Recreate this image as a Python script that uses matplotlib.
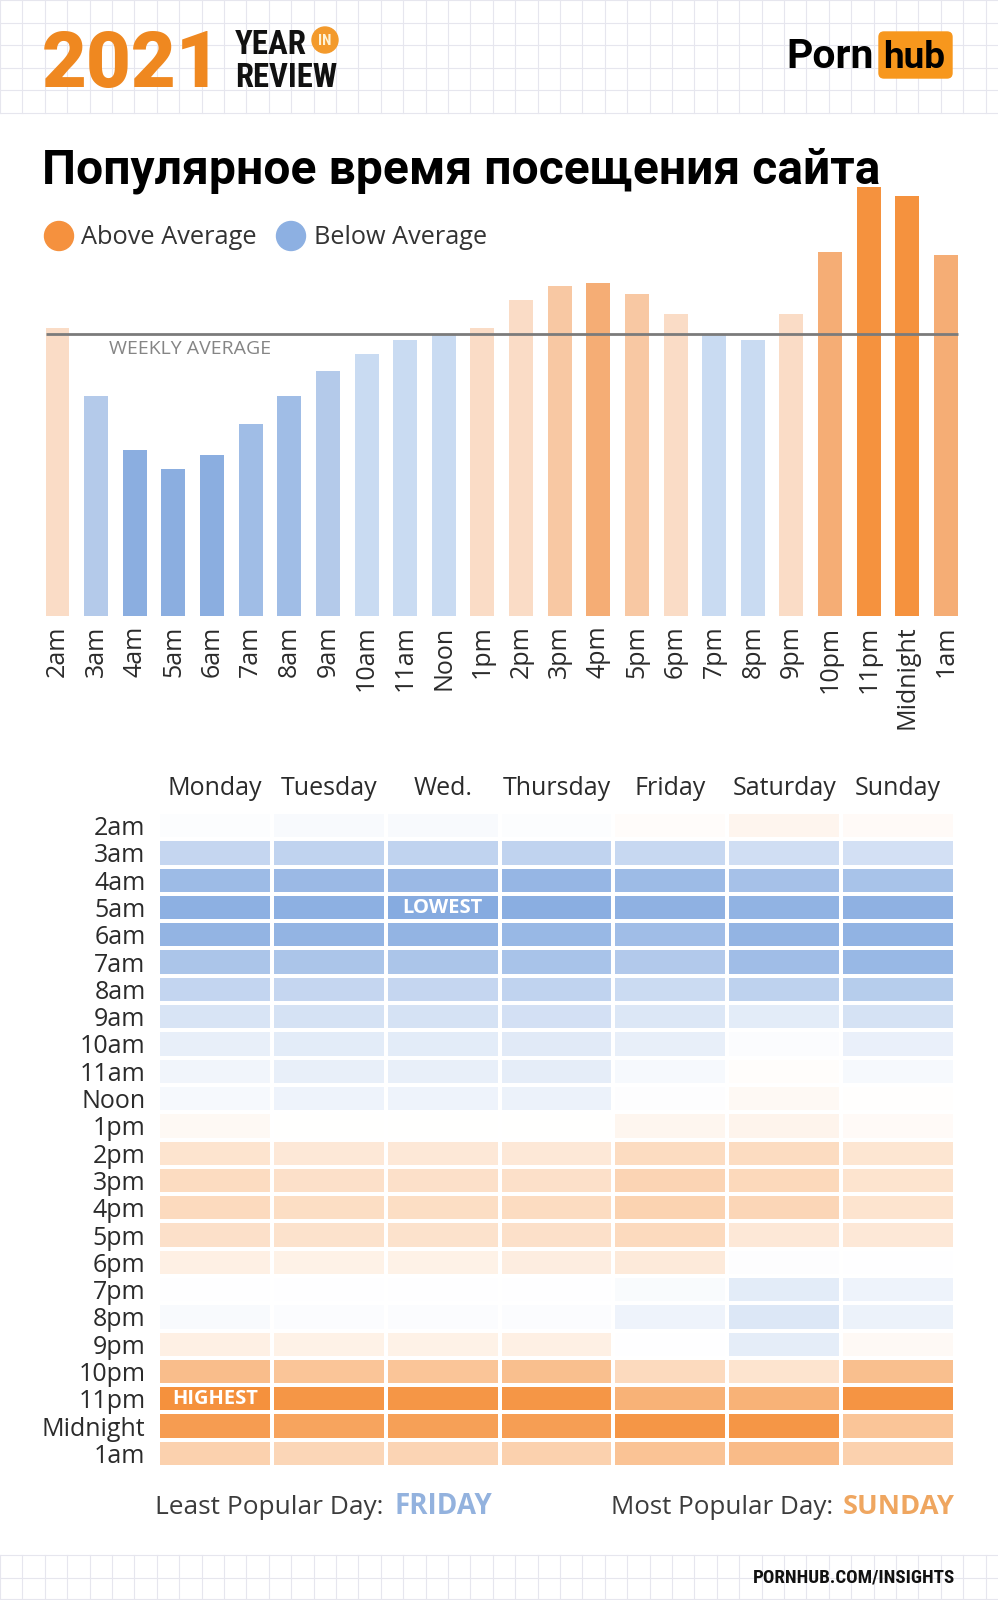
import matplotlib
matplotlib.use('Agg')
import matplotlib.pyplot as plt
from matplotlib import font_manager
from matplotlib.colors import LinearSegmentedColormap, TwoSlopeNorm
from matplotlib.patches import Circle, FancyBboxPatch
import numpy as np

# ---------------- data ----------------
hours = ['2am', '3am', '4am', '5am', '6am', '7am', '8am', '9am', '10am', '11am',
         'Noon', '1pm', '2pm', '3pm', '4pm', '5pm', '6pm', '7pm', '8pm', '9pm',
         '10pm', '11pm', 'Midnight', '1am']
# traffic index per hour (weekly average = 100)
bar_values = [102, 78, 59, 52, 57, 68, 78, 87, 93, 98,
              99.5, 102, 112, 117, 118, 114, 107, 99.5, 98, 107,
              129, 152, 149, 128]
weekly_average = 100
# colour intensity step of each bar (1 = palest, 4 = strongest)
bar_shade_level = [1, 2, 4, 4, 4, 3, 3, 2, 1, 1,
                   1, 1, 1, 2, 3, 2, 1, 1, 1, 1,
                   3, 4, 4, 3]

days = ['Monday', 'Tuesday', 'Wed.', 'Thursday', 'Friday', 'Saturday', 'Sunday']
# rows = hours (2am .. 1am), columns = days (Mon .. Sun); index, average = 100
heat_2am = [98.5, 97, 97, 98.5, 101.5, 105, 102.5]
heat_3am = [75, 73, 73, 73, 76, 80, 81]
heat_4am = [58, 57, 57, 55, 58, 62, 63]
heat_5am = [51, 51, 48, 50, 52, 53, 52]
heat_6am = [54, 54, 54, 56, 59, 54, 53]
heat_7am = [64, 64, 64, 63, 67, 59, 56]
heat_8am = [74, 75, 75, 73, 78, 72, 69]
heat_9am = [83, 82, 82, 81, 85, 88, 82]
heat_10am = [90, 88, 88, 87, 90, 98, 91]
heat_11am = [94, 90, 90, 89, 96, 101, 96]
heat_noon = [96, 93, 93, 92, 99, 103.5, 100.5]
heat_1pm = [103.5, 100, 100, 100, 104.5, 105.5, 102.5]
heat_2pm = [114, 112, 112, 112, 118, 118, 113]
heat_3pm = [118, 116, 116, 116, 122, 120, 114]
heat_4pm = [119, 117, 117, 118, 123, 121, 114]
heat_5pm = [116, 115, 115, 116, 119, 112, 112]
heat_6pm = [108, 107, 107, 109, 111, 99, 99.5]
heat_7pm = [99.5, 99.5, 99.5, 99.5, 97.5, 88, 93]
heat_8pm = [97, 98, 98, 98, 93, 85, 92]
heat_9pm = [108, 107, 107, 108, 99.5, 89, 103]
heat_10pm = [134, 130, 130, 133, 119, 114, 133]
heat_11pm = [157, 154, 154, 154, 140, 140, 155]
heat_midnight = [151, 147, 149, 150, 154, 154, 130]
heat_1am = [124, 121, 122, 124, 131, 135, 124]
heat_rows = [heat_2am, heat_3am, heat_4am, heat_5am, heat_6am, heat_7am, heat_8am,
             heat_9am, heat_10am, heat_11am, heat_noon, heat_1pm, heat_2pm, heat_3pm,
             heat_4pm, heat_5pm, heat_6pm, heat_7pm, heat_8pm, heat_9pm, heat_10pm,
             heat_11pm, heat_midnight, heat_1am]

title = 'Популярное время посещения сайта'
least_day = 'FRIDAY'
most_day = 'SUNDAY'

# ---------------- style ----------------
W, H, DPI = 998, 1600, 100
names = {f.name for f in font_manager.fontManager.ttflist}
BODY = ['Open Sans', 'DejaVu Sans']
TITLE = ['Roboto', 'DejaVu Sans']
if 'Roboto Condensed' in names:
    COND, COND_STRETCH = ['Roboto Condensed', 'DejaVu Sans'], 'normal'
elif 'Liberation Sans Narrow' in names:
    COND, COND_STRETCH = ['Liberation Sans Narrow', 'DejaVu Sans'], 'normal'
else:
    COND, COND_STRETCH = ['DejaVu Sans'], 'condensed'

BLUE_STEPS = ['#c9dbf2', '#b4caea', '#a0bde6', '#8baee0']
ORANGE_STEPS = ['#fadcc6', '#f8c8a3', '#f5ad75', '#f5923e']
TXT = '#2b2b2b'

fig = plt.figure(figsize=(W / DPI, H / DPI), dpi=DPI)
fig.patch.set_facecolor('white')

bg = fig.add_axes([0, 0, 1, 1], zorder=0)
bg.set_xlim(0, W)
bg.set_ylim(H, 0)
bg.axis('off')

# header / footer grid paper
grid_c = '#e6e6ee'
for gx in np.arange(0, W + 1, 22.4):
    bg.plot([gx, gx], [0, 113], color=grid_c, lw=0.8, zorder=0)
    bg.plot([gx, gx], [1555, H], color=grid_c, lw=0.8, zorder=0)
for gy in np.arange(0, 114, 22.6):
    bg.plot([0, W], [gy, gy], color=grid_c, lw=0.8, zorder=0)
for gy in [1555, 1577.5, 1599]:
    bg.plot([0, W], [gy, gy], color=grid_c, lw=0.8, zorder=0)

renderer = fig.canvas.get_renderer()


def fit(t, width):
    bb = t.get_window_extent(renderer=renderer)
    t.set_fontsize(t.get_fontsize() * width / bb.width)
    return t


# header logos
t2021 = bg.text(42, 87, '2021', family=TITLE, weight='black', color='#ef8820',
                fontsize=60, ha='left', va='baseline', zorder=3)
fit(t2021, 180)
tyear = bg.text(235, 54, 'YEAR', family=COND, fontstretch=COND_STRETCH, weight='bold',
                color='#111111', fontsize=26, ha='left', va='baseline', zorder=3)
fit(tyear, 72)
trev = bg.text(235, 87, 'REVIEW', family=COND, fontstretch=COND_STRETCH, weight='bold',
               color='#111111', fontsize=26, ha='left', va='baseline', zorder=3)
fit(trev, 102)
bg.add_patch(Circle((325, 40), 13, color='#f39a2c', zorder=3))
bg.text(325, 41, 'IN', family=COND, fontstretch=COND_STRETCH, weight='bold', color='#fff3d6',
        fontsize=11, ha='center', va='center', zorder=4)

tporn = bg.text(786, 68, 'Porn', family=TITLE, weight='bold', color='#000000',
                fontsize=30, ha='left', va='baseline', zorder=3)
fit(tporn, 87)
bg.add_patch(FancyBboxPatch((879, 32), 73, 46, boxstyle='round,pad=0,rounding_size=5',
                            color='#f7971d', zorder=3))
thub = bg.text(914, 68, 'hub', family=TITLE, weight='bold', color='#000000',
               fontsize=30, ha='center', va='baseline', zorder=4)
fit(thub, 62)

# title
ttl = bg.text(42, 183, title, family=TITLE, weight='bold', color='#000000',
              fontsize=32, ha='left', va='baseline', zorder=3)
fit(ttl, 838)

# legend
bg.add_patch(Circle((59, 236), 14.5, color='#f5913e', zorder=3))
bg.add_patch(Circle((291, 236), 14.5, color='#8db0e2', zorder=3))
la = bg.text(81, 237, 'Above Average', family=BODY, color='#333333', fontsize=18,
             ha='left', va='center', zorder=3)
fit(la, 176)
lb = bg.text(314, 237, 'Below Average', family=BODY, color='#333333', fontsize=18,
             ha='left', va='center', zorder=3)
fit(lb, 173)

# ---------------- bar chart ----------------
axb = fig.add_axes([38.2 / W, 1 - 616 / H, 927.1 / W, 436 / H], zorder=1)
axb.patch.set_alpha(0)
x = np.arange(len(hours))
bar_colors = [(ORANGE_STEPS if v > weekly_average else BLUE_STEPS)[lvl - 1]
              for v, lvl in zip(bar_values, bar_shade_level)]
axb.bar(x, bar_values, width=0.62, color=bar_colors, zorder=1)
axb.hlines(weekly_average, -0.31, len(hours) - 1 + 0.31, color='#7b7b7b', lw=2.0, zorder=3)
axb.set_xlim(-0.5, len(hours) - 0.5)
axb.set_ylim(0, 154.6)
for s in axb.spines.values():
    s.set_visible(False)
axb.set_yticks([])
axb.set_xticks(x)
axb.set_xticklabels(hours, rotation=90, fontsize=18, family=BODY, color=TXT, va='top')
axb.tick_params(axis='x', length=0, pad=7)
bg.text(109, 349, 'WEEKLY AVERAGE', family=BODY, color='#858585', fontsize=14,
        ha='left', va='center', zorder=3)

# ---------------- heatmap ----------------
axh = fig.add_axes([158 / W, 1 - 1467 / H, 797 / W, 655 / H], zorder=1)
axh.patch.set_alpha(0)
cmap = LinearSegmentedColormap.from_list('blue_orange', ['#86abe0', '#ffffff', '#f5913d'])
norm = TwoSlopeNorm(vmin=48, vcenter=100, vmax=157)
heat = np.array(heat_rows)
axh.pcolormesh(np.arange(len(days) + 1), np.arange(len(hours) + 1), heat,
               cmap=cmap, norm=norm, edgecolors='white', linewidth=1.6)
axh.set_xlim(0, len(days))
axh.set_ylim(len(hours), 0)
for s in axh.spines.values():
    s.set_visible(False)
axh.xaxis.tick_top()
axh.set_xticks(np.arange(len(days)) + 0.5)
axh.set_xticklabels(days, fontsize=18, family=BODY, color=TXT)
axh.set_yticks(np.arange(len(hours)) + 0.5)
axh.set_yticklabels(hours, fontsize=18, family=BODY, color=TXT)
axh.tick_params(length=0)
axh.tick_params(axis='x', pad=8)
axh.tick_params(axis='y', pad=9)

imin = np.unravel_index(np.argmin(heat), heat.shape)
imax = np.unravel_index(np.argmax(heat), heat.shape)
axh.text(imin[1] + 0.5, imin[0] + 0.5, 'LOWEST', color='white', weight='bold',
         family=BODY, fontsize=14.5, ha='center', va='center')
axh.text(imax[1] + 0.5, imax[0] + 0.5, 'HIGHEST', color='white', weight='bold',
         family=BODY, fontsize=14.5, ha='center', va='center')

# ---------------- footer texts ----------------
t1 = bg.text(155, 1507, 'Least Popular Day:', family=BODY, color='#3c3c3c', fontsize=18.5,
             ha='left', va='center', zorder=3)
fit(t1, 228)
t2 = bg.text(395, 1507, least_day, family=BODY, weight='bold', color='#93b2de',
             fontsize=18.5, ha='left', va='center', zorder=3)
fit(t2, 98)
t3 = bg.text(833, 1507, 'Most Popular Day:', family=BODY, color='#3c3c3c', fontsize=18.5,
             ha='right', va='center', zorder=3)
fit(t3, 223)
t4 = bg.text(955, 1507, most_day, family=BODY, weight='bold', color='#efa660',
             fontsize=18.5, ha='right', va='center', zorder=3)
fit(t4, 112)
tf = bg.text(955, 1578, 'PORNHUB.COM/INSIGHTS', family=COND, fontstretch=COND_STRETCH,
             weight='bold', color='#111111', fontsize=13, ha='right', va='center', zorder=3)
fit(tf, 201)

fig.savefig('out.png', dpi=DPI, facecolor='white')
